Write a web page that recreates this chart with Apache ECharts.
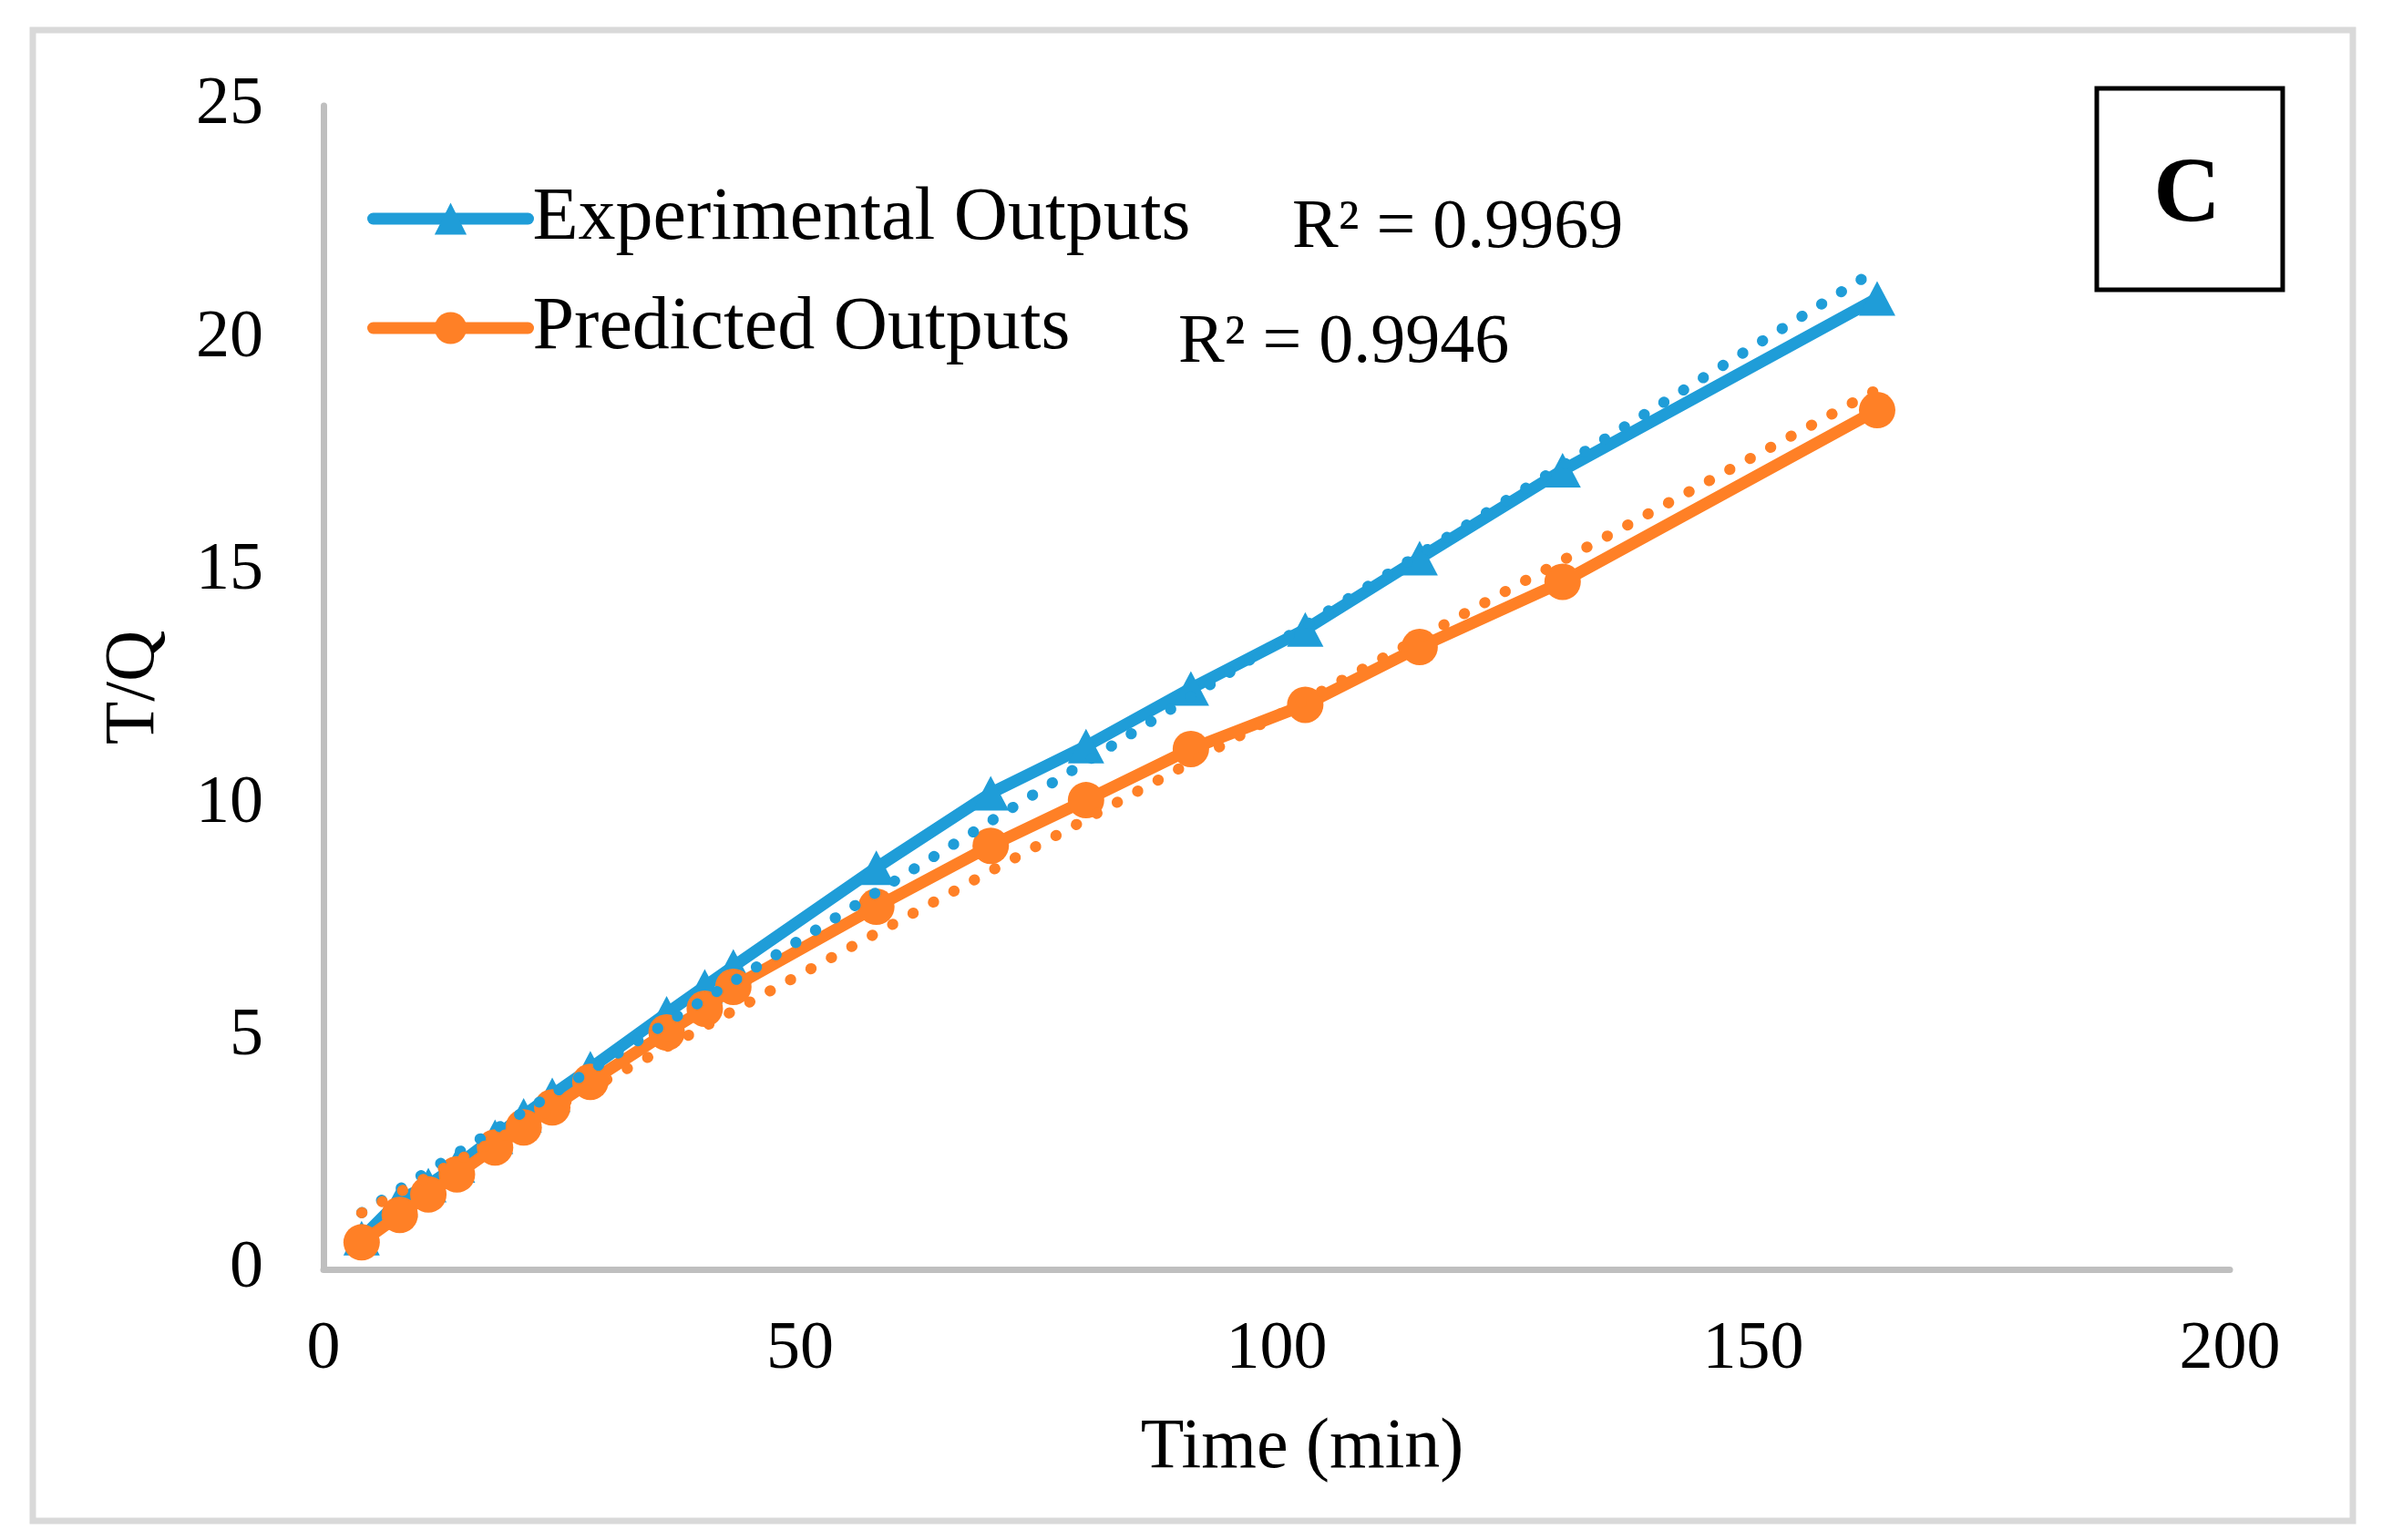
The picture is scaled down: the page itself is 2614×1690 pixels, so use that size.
<!DOCTYPE html>
<html>
<head>
<meta charset="utf-8">
<script src="https://cdn.jsdelivr.net/npm/echarts@6/dist/echarts.min.js"></script>
<style>
  html, body { margin: 0; padding: 0; background: #ffffff; }
  #chart { width: 2614px; height: 1690px; }
</style>
</head>
<body>
<div id="chart"></div>
<script>
// ---- data ----
var timeMin = [4, 8, 11, 14, 18, 21, 24, 28, 36, 40, 43, 58, 70, 80, 91, 103, 115, 130, 163];
var experimental = [0.67, 1.49, 1.81, 2.23, 2.85, 3.31, 3.75, 4.32, 5.50, 6.08, 6.51, 8.63, 10.23, 11.24, 12.48, 13.75, 15.28, 17.17, 20.86];
var predicted = [0.58, 1.17, 1.61, 2.04, 2.62, 3.05, 3.48, 4.03, 5.09, 5.60, 6.07, 7.79, 9.10, 10.08, 11.18, 12.13, 13.37, 14.77, 18.46];
var xTicks = [0, 50, 100, 150, 200];
var yTicks = [0, 5, 10, 15, 20, 25];
var seriesNames = ['Experimental Outputs', 'Predicted Outputs'];
var r2Labels = ['R\u00B2 = 0.9969', 'R\u00B2 = 0.9946'];
var panelLabel = 'C';

var BLUE = '#1F9DD8';
var ORANGE = '#FF8026';
var FONT = "'Liberation Serif', 'Times New Roman', serif";

function pairs(xs, ys) { return xs.map(function (x, i) { return [x, ys[i]]; }); }
function linFit(xs, ys) {
  var n = xs.length, sx = 0, sy = 0, sxx = 0, sxy = 0;
  for (var i = 0; i < n; i++) { sx += xs[i]; sy += ys[i]; sxx += xs[i] * xs[i]; sxy += xs[i] * ys[i]; }
  var b = (n * sxy - sx * sy) / (n * sxx - sx * sx);
  var a = (sy - b * sx) / n;
  var x0 = Math.min.apply(null, xs), x1 = Math.max.apply(null, xs);
  return [[x0, a + b * x0], [x1, a + b * x1]];
}

var chart = echarts.init(document.getElementById('chart'), null, { renderer: 'canvas' });

var option = {
  backgroundColor: '#ffffff',
  animation: false,
  grid: { left: 355, right: 167, top: 116, bottom: 297, containLabel: false },
  xAxis: {
    type: 'value', min: xTicks[0], max: xTicks[xTicks.length - 1], interval: 50,
    name: 'Time (min)', nameLocation: 'middle', nameGap: 158,
    nameTextStyle: { fontFamily: FONT, fontSize: 78, color: '#000', padding: [0, 0, 0, 56] },
    axisLine: { lineStyle: { color: '#bfbfbf', width: 7 } },
    axisTick: { show: false },
    splitLine: { show: false },
    axisLabel: { fontFamily: FONT, fontSize: 74, color: '#000', margin: 52 }
  },
  yAxis: {
    type: 'value', min: yTicks[0], max: yTicks[yTicks.length - 1], interval: 5,
    name: 'T/Q', nameLocation: 'middle', nameGap: 168, nameRotate: 90,
    nameTextStyle: { fontFamily: FONT, fontSize: 78, color: '#000' },
    axisLine: { show: true, lineStyle: { color: '#bfbfbf', width: 7 } },
    axisTick: { show: false },
    splitLine: { show: false },
    axisLabel: { fontFamily: FONT, fontSize: 74, color: '#000', margin: 66 }
  },
  legend: {
    data: seriesNames,
    orient: 'vertical',
    left: 398, top: 194,
    itemWidth: 170, itemHeight: 44, itemGap: 38,
    lineStyle: { width: 13, cap: 'round' },
    textStyle: { fontFamily: FONT, fontSize: 82, color: '#000', padding: [0, 0, 0, 0] }
  },
  series: [
    {
      name: seriesNames[0], type: 'line', data: pairs(timeMin, experimental), z: 2,
      symbol: 'triangle', symbolSize: [40, 38], showSymbol: true,
      lineStyle: { color: BLUE, width: 13, cap: 'round', join: 'round' },
      itemStyle: { color: BLUE }
    },
    {
      name: seriesNames[1], type: 'line', data: pairs(timeMin, predicted), z: 3,
      symbol: 'circle', symbolSize: 40, showSymbol: true,
      lineStyle: { color: ORANGE, width: 13, cap: 'round', join: 'round' },
      itemStyle: { color: ORANGE }
    },
    {
      name: 'Experimental trend', type: 'line', data: linFit(timeMin, experimental), z: 4,
      showSymbol: false, symbol: 'none', silent: true,
      lineStyle: { color: BLUE, width: 12, type: [0.5, 25], cap: 'round' }
    },
    {
      name: 'Predicted trend', type: 'line', data: linFit(timeMin, predicted), z: 5,
      showSymbol: false, symbol: 'none', silent: true,
      lineStyle: { color: ORANGE, width: 12, type: [0.5, 25], cap: 'round' }
    }
  ],
  graphic: [
    { type: 'rect', shape: { x: 36, y: 33, width: 2546, height: 1636 }, silent: true, z: -10,
      style: { fill: 'none', stroke: '#d9d9d9', lineWidth: 7 } },
    { type: 'text', left: 1418, top: 245 - 32, silent: true,
      style: { text: r2Labels[0], font: '76px ' + FONT, fill: '#000' } },
    { type: 'text', left: 1293, top: 372 - 33, silent: true,
      style: { text: r2Labels[1], font: '76px ' + FONT, fill: '#000' } },
    { type: 'rect', shape: { x: 2301, y: 97, width: 204, height: 221 }, silent: true,
      style: { fill: '#fff', stroke: '#000', lineWidth: 5 } },
    { type: 'text', x: 2400, y: 217, silent: true,
      style: { text: panelLabel, font: 'bold 102px ' + FONT, fill: '#000', textAlign: 'center', textVerticalAlign: 'middle' } }
  ]
};
chart.setOption(option);
</script>
</body>
</html>
